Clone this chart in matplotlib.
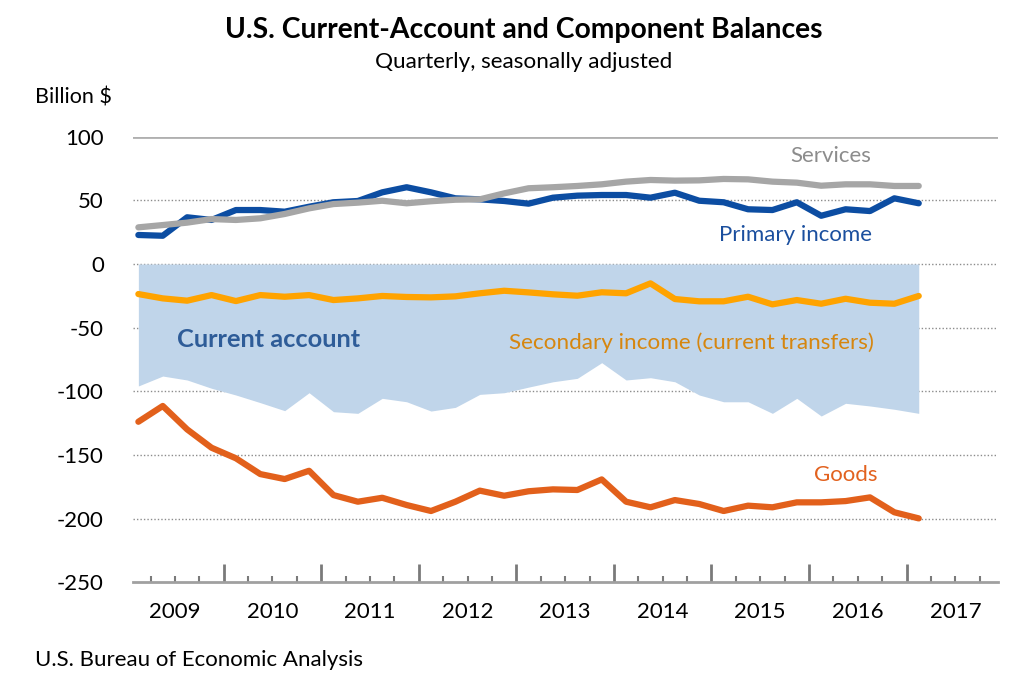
import matplotlib.pyplot as plt
import numpy as np

plt.rcParams['font.family'] = ['Lato', 'DejaVu Sans']

# quarterly, 2009Q1 .. 2017Q1
years = [2009, 2010, 2011, 2012, 2013, 2014, 2015, 2016, 2017]
goods = [-123.9, -111.5, -129.9, -144.3, -152.6, -165.0, -168.9, -162.4,
         -181.5, -186.7, -183.6, -189.3, -194.0, -186.7, -178.0, -182.0,
         -178.5, -177.0, -177.5, -169.2, -186.7, -191.1, -185.4, -188.5,
         -194.0, -189.8, -191.1, -187.2, -187.2, -186.2, -183.3, -195.0,
         -199.8]
services = [28.8, 30.6, 32.5, 35.3, 34.6, 35.9, 39.3, 43.7,
            47.1, 48.2, 49.7, 47.7, 49.3, 50.5, 50.8, 55.5,
            59.5, 60.3, 61.3, 62.6, 64.7, 66.0, 65.5, 65.7,
            66.8, 66.5, 64.7, 63.9, 61.5, 62.6, 62.6, 61.3,
            61.3]
primary = [22.8, 22.2, 36.7, 34.6, 42.4, 42.4, 41.1, 45.0,
           48.5, 49.5, 56.3, 60.3, 56.3, 51.6, 50.8, 49.5,
           47.4, 52.1, 53.7, 54.2, 54.2, 52.1, 56.0, 49.7,
           48.5, 43.0, 42.4, 48.5, 37.9, 43.0, 41.6, 51.6,
           47.7]
secondary = [-23.6, -27.0, -28.8, -24.4, -29.1, -24.4, -25.7, -24.4,
             -28.3, -27.0, -25.1, -25.9, -26.2, -25.4, -23.0, -21.0,
             -22.3, -23.8, -24.9, -22.2, -23.0, -15.2, -27.5, -29.3,
             -29.3, -25.7, -31.7, -28.3, -31.2, -27.3, -30.4, -31.2,
             -25.1]
current_account = [-95.8, -88.0, -91.1, -97.6, -102.9, -108.9, -115.2, -101.1,
                   -116.0, -117.3, -105.5, -108.2, -115.5, -112.6, -102.4, -101.1,
                   -96.7, -92.5, -89.8, -77.5, -91.1, -89.3, -92.5, -102.9,
                   -108.2, -108.2, -117.3, -105.5, -119.4, -109.4, -111.5, -114.1,
                   -117.3]

q = np.arange(len(goods))

fig = plt.figure(figsize=(10.24, 6.85), dpi=100)
ax = fig.add_axes([133/1024, 1-582.3/685, 865/1024, 445.6/685])

for y in [50, 0, -50, -100, -150, -200]:
    ax.axhline(y, color='#8c8c8c', lw=1.0, ls=(0, (1, 1.5)), zorder=0)
ax.axhline(100, color='#b0b0b0', lw=2, zorder=0)

ax.fill_between(q, 0, current_account, color='#c0d5ea', lw=0, zorder=1)
ax.plot(q, secondary, color='#ffa300', lw=4.5, solid_capstyle='round', zorder=3)
ax.plot(q, goods, color='#e2601b', lw=4.5, solid_capstyle='round', zorder=3)
ax.plot(q, primary, color='#0c4da2', lw=4.5, solid_capstyle='round', zorder=3)
ax.plot(q, services, color='#a6a6a6', lw=4.5, solid_capstyle='round', zorder=4)

ax.set_xlim(-0.22, 35.25)
ax.set_ylim(-250, 100)
ax.set_yticks([100, 50, 0, -50, -100, -150, -200, -250])
ax.set_yticklabels(['100', '50', '0', '-50', '-100', '-150', '-200', '-250'],
                   fontsize=16)
ax.tick_params(axis='y', length=0, pad=21)

ax.set_xticks([4*k + 3.5 for k in range(8)])
ax.set_xticks([i + 0.5 for i in range(35) if (i + 1) % 4 != 0], minor=True)
ax.tick_params(axis='x', which='major', direction='in', length=13, width=2,
               color='#7a7a7a', labelbottom=False)
ax.tick_params(axis='x', which='minor', direction='in', length=4, width=1.5,
               color='#7a7a7a')
for k, yr in enumerate(years):
    ax.text(4*k + 1.5, -273, str(yr), ha='center', va='center', fontsize=16)

for s in ['top', 'left', 'right']:
    ax.spines[s].set_visible(False)
ax.spines['bottom'].set_color('#a0a0a0')
ax.spines['bottom'].set_linewidth(2)

ax.text(28.4, 84.5, 'Services', color='#8c8c8c', fontsize=16, ha='center', va='center')
ax.text(26.95, 22.5, 'Primary income', color='#1b4f9e', fontsize=16, ha='center', va='center')
ax.text(1.6, -59, 'Current account', color='#2e5c98', fontsize=18.3, fontweight='bold',
        ha='left', va='center')
ax.text(15.2, -62, 'Secondary income (current transfers)', color='#d6860f', fontsize=16.2,
        ha='left', va='center')
ax.text(29.0, -166, 'Goods', color='#e2621f', fontsize=16, ha='center', va='center')

fig.text(524/1024, 1-30/685, 'U.S. Current-Account and Component Balances',
         ha='center', va='center', fontsize=20.3, fontweight='bold')
fig.text(524/1024, 1-62/685, 'Quarterly, seasonally adjusted',
         ha='center', va='center', fontsize=16.2)
fig.text(35/1024, 1-98/685, 'Billion $', ha='left', va='center', fontsize=15.5)
fig.text(35/1024, 1-660/685, 'U.S. Bureau of Economic Analysis',
         ha='left', va='center', fontsize=16)

plt.savefig('out.png', dpi=100)
